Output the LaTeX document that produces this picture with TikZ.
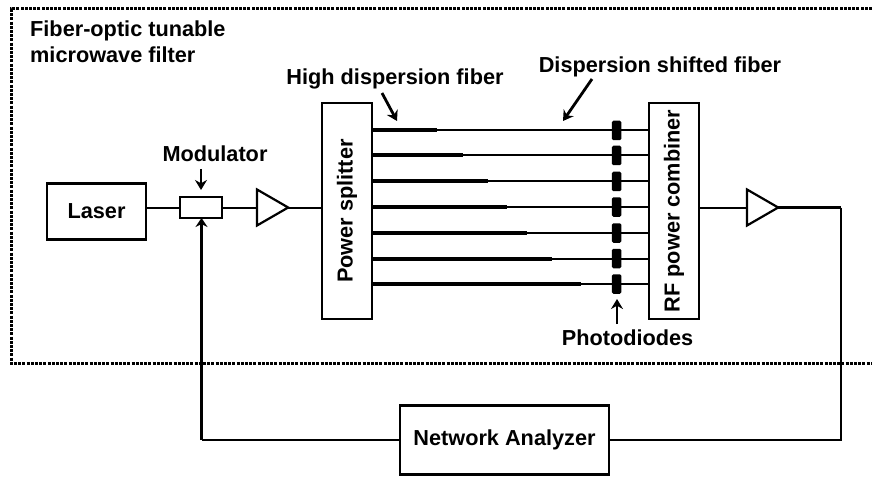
\documentclass[tikz,border=0pt]{standalone}
\usepackage{fontspec}
\setmainfont{Liberation Sans}
\usetikzlibrary{arrows.meta,shapes.geometric}
\tikzset{
  blockbox/.style={draw=black, line width=2.2pt, inner sep=0pt, outer sep=0pt, font=\bfseries\fontsize{21.7}{26}\selectfont},
  vbox/.style={blockbox, minimum width=216pt, minimum height=50pt, rotate=90},
  diode/.style={fill=black, rounded corners=1.5pt, minimum width=9.5pt, minimum height=19.5pt, inner sep=0pt, outer sep=0pt},
  ampbox/.style={draw=black, line width=2.2pt, isosceles triangle, isosceles triangle apex angle=60, minimum height=31pt, minimum width=36pt, inner sep=0pt, outer sep=0pt},
  tag/.style={font=\bfseries\fontsize{21.7}{26}\selectfont, inner sep=0pt, align=left},
  wire/.style={line width=2pt},
  thickwire/.style={line width=4pt},
  pointer/.style={line width=2.8pt, -{Stealth[length=10pt,width=12pt]}}
}
\begin{document}
\begin{tikzpicture}[x=1pt, y=-1pt]
  \useasboundingbox (0,0) rectangle (872,481);

  % Filter outline
  \draw[line width=3pt, dash pattern=on 3pt off 1.2pt] (872,9) -- (11,9) -- (11,363) -- (872,363);
  \node[tag, anchor=north west] (title) at (30,21) {Fiber-optic tunable\\microwave filter};

  % Input side
  \node[blockbox, minimum width=99pt, minimum height=56pt] (laser) at (96.5,211.5) {Laser};
  \node[blockbox, minimum width=42pt, minimum height=21pt] (mod) at (201,207.5) {};
  \node[ampbox, anchor=lower side] (ampa) at (257,207.5) {};
  \node[vbox] (ps) at (347,211) {Power splitter};

  % Output side
  \node[vbox] (rf) at (674,211) {RF power combiner};
  \node[ampbox, anchor=lower side] (ampb) at (747,207.5) {};
  \node[blockbox, minimum width=209pt, minimum height=69pt] (na) at (504.5,440) {Network Analyzer};
  \coordinate (corner) at (841,207.5);
  \coordinate (bend) at (201.5,440);

  % Fibers and photodiodes
  \foreach \i/\y/\e in {1/130.5/437, 2/155.5/463, 3/181.5/488, 4/207/507, 5/233/527, 6/258.5/552, 7/284/581} {
    \node[diode] (pd\i) at (616.5,\y) {};
    \coordinate (end\i) at (\e,\y);
    \draw[wire] (end\i) -- (pd\i) -- (rf.north |- pd\i);
    \draw[thickwire] (ps.south |- pd\i) -- (end\i);
  }

  % Signal path
  \draw[wire] (laser.east |- mod) -- (mod.west);
  \draw[wire] (mod.east) -- (ampa.lower side);
  \draw[wire] (ampa.apex) -- (ps.north |- ampa.apex);
  \draw[wire] (rf.south |- ampb.apex) -- (ampb.lower side);
  \draw[line width=2.4pt] (ampb.apex) -- (corner);
  \draw[line width=2pt] (corner) |- (na.east);
  \draw[line width=2pt] (na.west) -- (bend);
  \draw[line width=3.6pt, -{Stealth[length=9pt,width=12pt]}] (bend) -- (bend |- mod.south);

  % Labels
  \node[tag, anchor=base] (modlabel) at (215,162) {Modulator};
  \coordinate (modtail) at (201,169);
  \coordinate (modtip) at (201,190);
  \draw[pointer] (modtail) -- (modtip);
  \node[tag, anchor=base] (hdf) at (395,85) {High dispersion fiber};
  \coordinate (hdftail) at (382,93);
  \coordinate (hdftip) at (397,121);
  \draw[pointer] (hdftail) -- (hdftip);
  \node[tag, anchor=base] (dsf) at (660,72.5) {Dispersion shifted fiber};
  \coordinate (dsftail) at (592,79);
  \coordinate (dsftip) at (563,121);
  \draw[pointer] (dsftail) -- (dsftip);
  \node[tag, anchor=base] (pdlabel) at (627.5,345.5) {Photodiodes};
  \coordinate (pdtail) at (617,324);
  \coordinate (pdtip) at (617,299);
  \draw[pointer] (pdtail) -- (pdtip);
\end{tikzpicture}
\end{document}
